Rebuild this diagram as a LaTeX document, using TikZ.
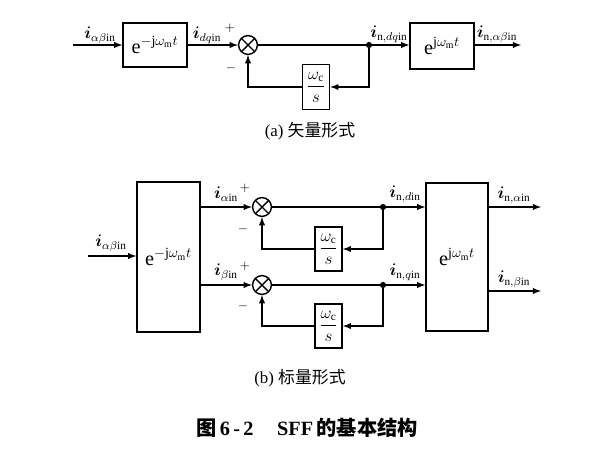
\documentclass[tikz,border=0pt]{standalone}
\usepackage{amsmath}
\usepackage{bm}
\usepackage{fontspec}
\setmainfont{Liberation Serif}
\newfontfamily\cjk{Noto Sans CJK SC}
\tikzset{
  blk/.style={draw, line width=1pt, inner sep=0pt, font=\large},
  rot/.style={blk, font=\Large},
  sumc/.style={draw, line width=1pt, circle, minimum size=0.47cm, inner sep=0pt,
    path picture={\draw[line width=1pt] (path picture bounding box.north west) -- (path picture bounding box.south east)
      (path picture bounding box.north east) -- (path picture bounding box.south west);}},
  sig/.style={line width=1pt, -latex},
  lbl/.style={font=\large},
  sgn/.style={font=\small},
}
\begin{document}
\begin{tikzpicture}[x=0.025cm, y=-0.025cm]
  \useasboundingbox (0,0) rectangle (616,450);
  % (a) vector form
  \coordinate (ain) at (73,45);
  \coordinate (da) at (369,45);
  \coordinate (aout) at (521,45);
  \node[rot, minimum width=1.6cm, minimum height=1.1cm] (ta) at (155,45) {$\mathrm{e}^{-\mathrm{j}\omega_{\mathrm{m}}t}$};
  \node[sumc] (sa) at (248,45) {};
  \node[rot, minimum width=1.6cm, minimum height=1.15cm] (tb) at (442,46) {$\mathrm{e}^{\mathrm{j}\omega_{\mathrm{m}}t}$};
  \node[blk, minimum width=0.68cm, minimum height=1.12cm] (fa) at (316,87) {$\dfrac{\omega_{\mathrm{c}}}{s}$};
  \draw[sig] (ain) -- (ta);
  \draw[sig] (ta) -- (sa);
  \draw[line width=1pt] (sa) -- (da);
  \draw[sig] (da) -- (tb.west |- da);
  \draw[sig] (tb.east |- aout) -- (aout);
  \draw[sig] (da) |- (fa);
  \draw[sig] (fa) -| (sa);
  \fill (da) circle (2.2pt);
  \node[lbl] (la1) at (100,35) {$\bm{i}_{\alpha\beta\mathrm{in}}$};
  \node[lbl] (la2) at (207,35) {$\bm{i}_{dq\mathrm{in}}$};
  \node[lbl] (la3) at (389,34) {$\bm{i}_{\mathrm{n},dq\mathrm{in}}$};
  \node[lbl] (la4) at (497,34) {$\bm{i}_{\mathrm{n},\alpha\beta\mathrm{in}}$};
  \node[sgn] (pa) at (230,28) {$+$};
  \node[sgn] (ma) at (231,68) {$-$};
  \node[font=\large] (capa) at (310,131) {(a) {\cjk 矢量形式}};
  % (b) scalar form
  \coordinate (bin) at (88,256);
  \coordinate (db) at (383,207);
  \coordinate (dc) at (383,285);
  \coordinate (boutb) at (541,207);
  \coordinate (boutc) at (541,291);
  \node[rot, minimum width=1.575cm, minimum height=3.75cm] (tc) at (168.5,257) {$\mathrm{e}^{-\mathrm{j}\omega_{\mathrm{m}}t}$};
  \node[sumc] (sb) at (262,207) {};
  \node[sumc] (sc) at (262,285) {};
  \node[rot, minimum width=1.55cm, minimum height=3.7cm] (td) at (457,257) {$\mathrm{e}^{\mathrm{j}\omega_{\mathrm{m}}t}$};
  \node[blk, minimum width=0.68cm, minimum height=1.1cm] (fb) at (328.5,249) {$\dfrac{\omega_{\mathrm{c}}}{s}$};
  \node[blk, minimum width=0.68cm, minimum height=1.1cm] (fc) at (328.5,326) {$\dfrac{\omega_{\mathrm{c}}}{s}$};
  \draw[sig] (bin) -- (tc.west |- bin);
  \draw[sig] (tc.east |- sb) -- (sb);
  \draw[sig] (tc.east |- sc) -- (sc);
  \draw[line width=1pt] (sb) -- (db);
  \draw[line width=1pt] (sc) -- (dc);
  \draw[sig] (db) -- (td.west |- db);
  \draw[sig] (dc) -- (td.west |- dc);
  \draw[sig] (td.east |- boutb) -- (boutb);
  \draw[sig] (td.east |- boutc) -- (boutc);
  \draw[sig] (db) |- (fb);
  \draw[sig] (fb) -| (sb);
  \draw[sig] (dc) |- (fc);
  \draw[sig] (fc) -| (sc);
  \fill (db) circle (2.2pt);
  \fill (dc) circle (2.2pt);
  \node[lbl] (lb1) at (111,243) {$\bm{i}_{\alpha\beta\mathrm{in}}$};
  \node[lbl] (lb2) at (226,194) {$\bm{i}_{\alpha\mathrm{in}}$};
  \node[lbl] (lb3) at (226,272) {$\bm{i}_{\beta\mathrm{in}}$};
  \node[lbl] (lb4) at (405,194) {$\bm{i}_{\mathrm{n},d\mathrm{in}}$};
  \node[lbl] (lb5) at (405,272) {$\bm{i}_{\mathrm{n},q\mathrm{in}}$};
  \node[lbl] (lb6) at (514,195) {$\bm{i}_{\mathrm{n},\alpha\mathrm{in}}$};
  \node[lbl] (lb7) at (514,279) {$\bm{i}_{\mathrm{n},\beta\mathrm{in}}$};
  \node[sgn] (pb) at (245,188) {$+$};
  \node[sgn] (mb) at (243,229) {$-$};
  \node[sgn] (pc) at (245,266) {$+$};
  \node[sgn] (mc) at (243,306) {$-$};
  \node[font=\large] (capb) at (300,378) {(b) {\cjk 标量形式}};
  \node[font=\Large\bfseries] (cap) at (307,428) {{\cjk 图}\,6\,-\,2\quad\,SFF\,{\cjk 的基本结构}};
\end{tikzpicture}
\end{document}
